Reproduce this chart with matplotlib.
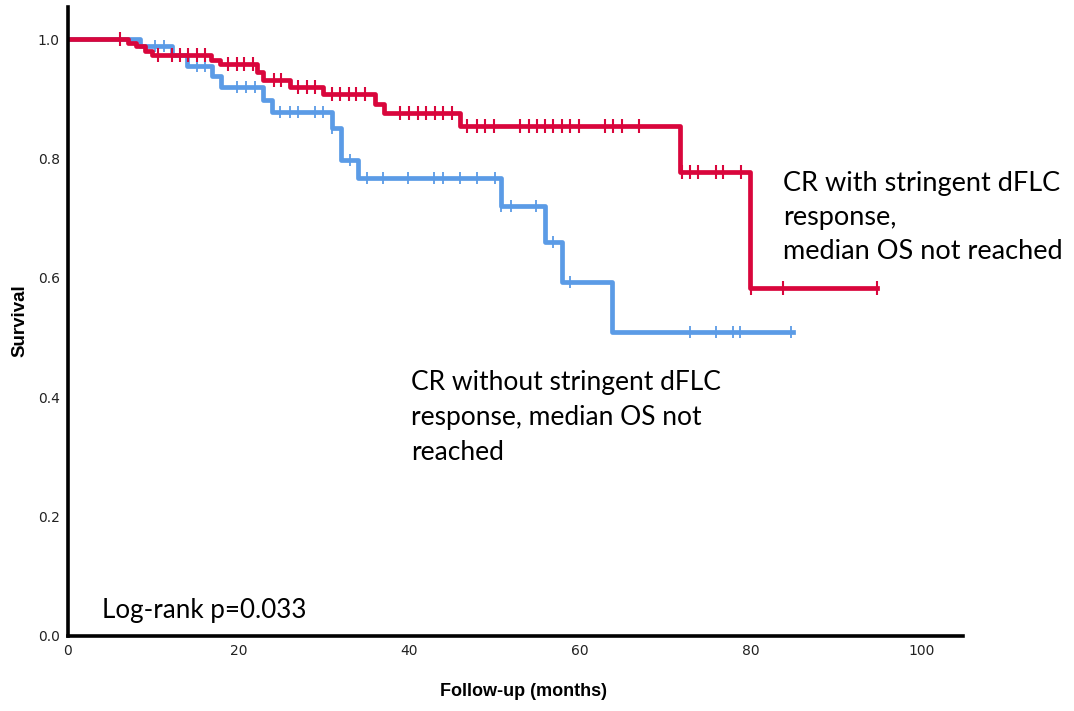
import matplotlib.pyplot as plt
import numpy as np

# Kaplan-Meier steps
red_t = [0, 7.0, 8.0, 9.0, 9.8, 16.8, 17.8, 22.1, 22.9, 26.0, 29.9, 36.0, 37.0, 46.0, 71.7, 79.9, 94.8]
red_s = [1.0, 0.994, 0.988, 0.981, 0.974, 0.966, 0.958, 0.945, 0.931, 0.920, 0.908, 0.892, 0.876, 0.855, 0.777, 0.583, 0.583]
red_cens = [6.1, 10.6, 12.2, 13.1, 14.1, 15.1, 16.1, 18.8, 19.8, 20.6, 21.7, 24.1, 25.0, 27.0, 28.0, 29.0,
            30.9, 31.9, 32.9, 33.8, 34.8, 38.9, 40.0, 41.0, 42.0, 43.0, 44.0, 45.0, 46.8, 47.9, 48.9, 49.9,
            53.0, 54.0, 55.0, 55.9, 56.9, 57.9, 58.9, 59.9, 62.9, 63.9, 64.9, 66.9, 72.0, 72.9, 73.9, 75.9,
            76.8, 78.9, 80.0, 83.8, 94.8]

blue_t = [0, 8.4, 12.2, 13.9, 16.9, 17.9, 22.9, 23.9, 31.0, 32.0, 34.0, 50.8, 55.9, 57.9, 63.8, 85.0]
blue_s = [1.0, 0.988, 0.973, 0.955, 0.938, 0.920, 0.899, 0.878, 0.852, 0.797, 0.768, 0.720, 0.661, 0.593, 0.509, 0.509]
blue_cens = [10.2, 11.2, 15.1, 16.1, 19.8, 20.9, 21.9, 24.9, 26.0, 27.0, 29.0, 29.9, 31.0, 33.0, 35.0, 36.9,
             39.9, 42.9, 43.9, 46.0, 47.9, 50.0, 50.8, 51.9, 54.9, 56.9, 58.9, 72.9, 75.9, 77.9, 78.8, 84.8]

x_ticks = [0, 20, 40, 60, 80, 100]
y_ticks = [0.0, 0.2, 0.4, 0.6, 0.8, 1.0]

RED = '#d9063c'
BLUE = '#5b9be6'


def at(times, surv, c):
    idx = np.searchsorted(times, c, side='right') - 1
    return np.array(surv)[idx]


fig = plt.figure(figsize=(10.74, 7.11), dpi=100)
ax = fig.add_axes([0.0633, 0.1055, 0.8333, 0.8845])

ax.step(blue_t, blue_s, where='post', color=BLUE, lw=3.4)
ax.plot(blue_cens, at(blue_t, blue_s, blue_cens), '|', color=BLUE, ms=9, mew=1.3)
ax.step(red_t, red_s, where='post', color=RED, lw=3.4)
ax.plot(red_cens, at(red_t, red_s, red_cens), '|', color=RED, ms=10, mew=1.5)

ax.set_xlim(0, 104.9)
ax.set_ylim(0, 1.054)
ax.set_xticks(x_ticks)
ax.set_yticks(y_ticks)
ax.set_xticklabels([str(v) for v in x_ticks])
ax.set_yticklabels(['%.1f' % v for v in y_ticks])
for lab in ax.get_xticklabels() + ax.get_yticklabels():
    lab.set_fontsize(10)
    lab.set_color('#222222')
ax.tick_params(length=0, pad=6)

for s in ['top', 'right']:
    ax.spines[s].set_visible(False)
for s in ['left', 'bottom']:
    ax.spines[s].set_linewidth(2.6)
    ax.spines[s].set_color('black')

# axis titles placed on the figure
fig.text(0.487, 0.027, 'Follow-up (months)', ha='center', va='center',
         fontsize=13, fontweight='bold', family='Liberation Sans')
fig.text(0.0186, 0.549, 'Survival', ha='center', va='center', rotation=90,
         fontsize=13.5, fontweight='bold', family='Liberation Sans')

txt = ['Lato', 'DejaVu Sans']
ax.text(83.8, 0.702, 'CR with stringent dFLC\nresponse,\nmedian OS not reached',
        ha='left', va='center', fontsize=19.5, family=txt, linespacing=1.45)
ax.text(40.2, 0.367, 'CR without stringent dFLC\nresponse, median OS not\nreached',
        ha='left', va='center', fontsize=19, family=txt, linespacing=1.5)
ax.text(4.0, 0.042, 'Log-rank p=0.033', ha='left', va='center', fontsize=18.7, family=txt)

fig.savefig('out.png', dpi=100)
